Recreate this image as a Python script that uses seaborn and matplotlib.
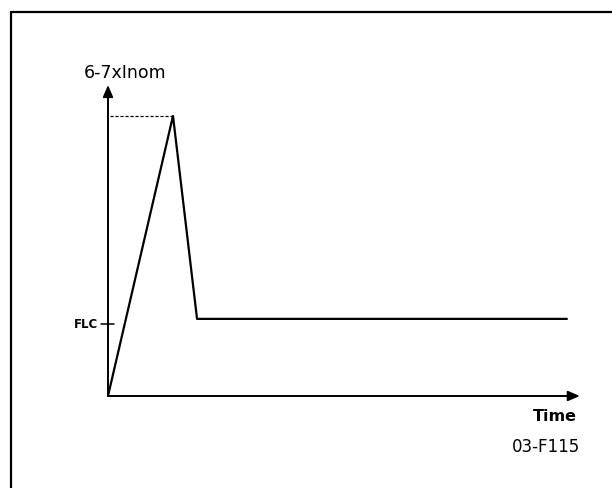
import matplotlib
matplotlib.use("Agg")
import matplotlib.pyplot as plt
import seaborn as sns
import pandas as pd

# Motor starting current profile (time and current in relative units)
time_pts = [0.0, 1.0, 1.37, 7.06]
current_pts = [0.0, 6.5, 1.79, 1.79]
peak_label = "6-7xInom"
flc_level = 1.67
flc_label = "FLC"
x_label = "Time"
fig_code = "03-F115"

sns.set_style("white")
plt.rcParams["font.family"] = ["DejaVu Sans"]
plt.rcParams["text.color"] = "black"

fig = plt.figure(figsize=(6.12, 4.88), dpi=100)
ax = fig.add_axes([0, 0, 1, 1])
ax.set_xlim(-1.6615, 7.754)
ax.set_ylim(-2.1357, 9.192)
ax.axis("off")

df = pd.DataFrame({"t": time_pts, "i": current_pts})
sns.lineplot(data=df, x="t", y="i", ax=ax, color="black", lw=1.6,
             sort=False, estimator=None)

# axes with arrowheads
x_end = 7.26
y_end = 7.22
ax.annotate("", xy=(x_end, 0), xytext=(0, 0),
            arrowprops=dict(arrowstyle="-|>,head_length=0.7,head_width=0.3",
                            color="black", lw=1.4, shrinkA=0, shrinkB=0))
ax.annotate("", xy=(0, y_end), xytext=(0, 0),
            arrowprops=dict(arrowstyle="-|>,head_length=0.7,head_width=0.3",
                            color="black", lw=1.4, shrinkA=0, shrinkB=0))

# dotted reference to the peak
ax.plot([0.03, time_pts[1]], [current_pts[1], current_pts[1]],
        color="black", lw=0.9, ls=(0, (2.5, 1.5)))

# FLC tick
ax.plot([-0.11, 0.09], [flc_level, flc_level], color="black", lw=1.1)
ax.text(-0.15, flc_level, flc_label, ha="right", va="center",
        fontsize=8.5, fontweight="bold", color="black")

ax.text(0.27, y_end + 0.28, peak_label, ha="center", va="center",
        fontsize=12.5, color="black")
ax.text(6.88, -0.47, x_label, ha="center", va="center", fontsize=11.5,
        fontweight="bold", color="black")
ax.text(6.74, -1.18, fig_code, ha="center", va="center", fontsize=12,
        color="black")

# enclosing frame (left and top edges)
fig.add_artist(plt.Line2D([11 / 612, 11 / 612], [0, 1 - 12 / 488],
                          color="black", lw=1.6))
fig.add_artist(plt.Line2D([11 / 612, 1], [1 - 12 / 488, 1 - 12 / 488],
                          color="black", lw=1.6))

fig.savefig("out.png", dpi=100)
